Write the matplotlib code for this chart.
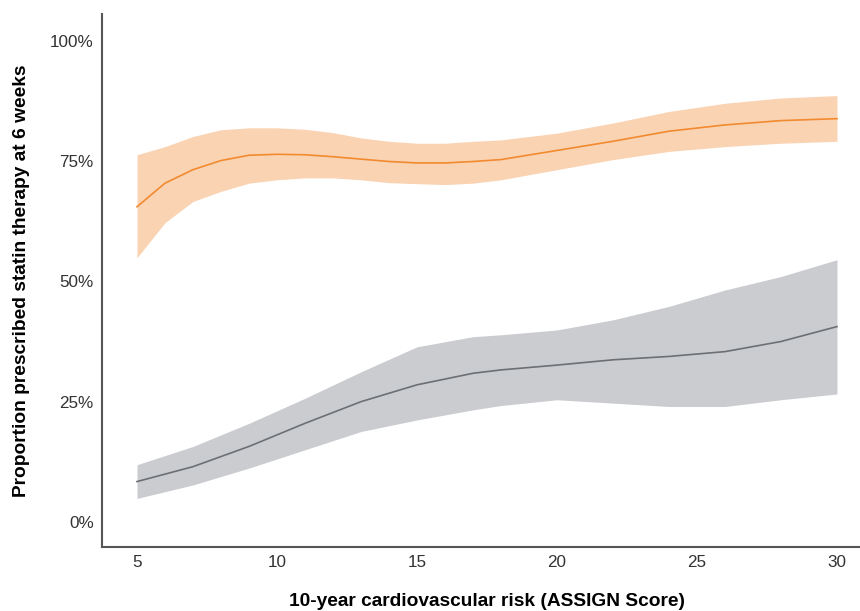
import numpy as np
import matplotlib
matplotlib.use("Agg")
import matplotlib.pyplot as plt
from matplotlib.ticker import PercentFormatter

plt.rcParams['font.family'] = ['Liberation Sans', 'DejaVu Sans']

# ASSIGN score grid
risk = [5, 6, 7, 8, 9, 10, 11, 12, 13, 14, 15, 16, 17, 18, 20, 22, 24, 26, 28, 30]

# orange group: fit and 95% band (percent)
orange_fit = [65.5, 70.4, 73.2, 75.1, 76.2, 76.4, 76.3, 75.9, 75.4, 74.9, 74.6, 74.6, 74.9,
              75.3, 77.2, 79.1, 81.2, 82.5, 83.4, 83.8]
orange_hi = [76.3, 78.0, 80.1, 81.5, 81.9, 81.9, 81.6, 80.9, 79.8, 79.1, 78.7, 78.7, 79.1,
             79.4, 80.8, 82.9, 85.3, 87.0, 88.1, 88.6]
orange_lo = [54.9, 62.2, 66.6, 68.7, 70.4, 71.1, 71.5, 71.5, 71.1, 70.5, 70.3, 70.1, 70.4,
             71.1, 73.2, 75.3, 77.0, 78.0, 78.7, 79.1]

# grey group
grey_risk = [5, 7, 9, 11, 13, 15, 17, 18, 20, 22, 24, 26, 28, 30]
grey_fit = [8.4, 11.5, 15.7, 20.5, 25.0, 28.5, 30.9, 31.6, 32.6, 33.7, 34.4, 35.4, 37.5, 40.6]
grey_hi = [11.9, 15.7, 20.5, 25.7, 31.2, 36.4, 38.5, 38.9, 39.9, 42.0, 44.8, 48.2, 51.0, 54.5]
grey_lo = [4.9, 7.7, 11.2, 15.0, 18.8, 21.2, 23.3, 24.2, 25.4, 24.7, 24.0, 24.0, 25.4, 26.6]

fig = plt.figure(figsize=(8.6, 6.11), dpi=100)
# right edge runs a little past the canvas, like the cropped original
ax = fig.add_axes([0.1186, 0.1047, 0.8953, 0.872])

ax.fill_between(grey_risk, grey_lo, grey_hi, color='#cbccd0', lw=0)
ax.plot(grey_risk, grey_fit, color='#6b7075', lw=1.2)
ax.fill_between(risk, orange_lo, orange_hi, color='#fad3b3', lw=0)
ax.plot(risk, orange_fit, color='#f28a30', lw=1.2)

ax.set_xlim(3.75, 31.25)
ax.set_ylim(-5.2, 105.5)
ax.set_xticks([5, 10, 15, 20, 25, 30])
ax.set_yticks([0, 25, 50, 75, 100])
ax.yaxis.set_major_formatter(PercentFormatter(decimals=0))
ax.tick_params(length=0, labelsize=12.3, labelcolor='#333333', pad=6)

for s in ['top', 'right']:
    ax.spines[s].set_visible(False)
for s in ['left', 'bottom']:
    ax.spines[s].set_color('#555555')
    ax.spines[s].set_linewidth(1.5)

ax.set_xlabel('10-year cardiovascular risk (ASSIGN Score)', fontsize=13.8,
              fontweight='bold', labelpad=16)
ax.set_ylabel('Proportion prescribed statin therapy at 6 weeks', fontsize=13.8,
              fontweight='bold', labelpad=14)

fig.savefig('out.png', dpi=100)
